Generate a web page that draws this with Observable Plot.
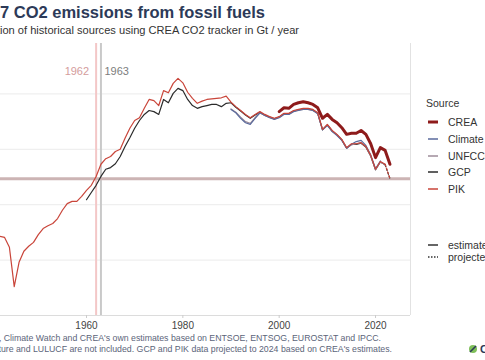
<!DOCTYPE html>
<html><head><meta charset="utf-8">
<script src="https://cdn.jsdelivr.net/npm/d3@7"></script>
<script src="https://cdn.jsdelivr.net/npm/@observablehq/plot@0.6"></script>
<style>
body{margin:0;background:#fff;}
#wrap{position:relative;width:485px;height:360px;overflow:hidden;font-family:"Liberation Sans",Arial,sans-serif;}
#wrap svg{position:absolute;left:0;top:0;}
</style></head><body><div id="wrap"></div>
<script>
// ---- data (Gt CO2 / year) ----
const pikYears = d3.range(1940, 2023);
const pikValues = [1.44,1.43,1.43,1.41,1.23,0.52,0.96,1.16,1.25,1.32,
  1.46,1.57,1.62,1.66,1.75,1.90,2.02,2.06,2.06,2.15,
  2.26,2.35,2.51,2.73,2.83,2.87,2.96,3.00,3.20,3.38,
  3.52,3.57,3.74,3.90,3.88,3.79,4.06,4.02,4.19,4.28,
  4.20,4.03,3.92,3.83,3.87,3.90,3.91,3.92,3.93,3.96,
  3.85,3.77,3.70,3.63,3.57,3.63,3.68,3.63,3.59,3.56,
  3.59,3.65,3.65,3.70,3.72,3.74,3.74,3.72,3.66,3.36,
  3.45,3.34,3.27,3.18,3.03,3.10,3.10,3.12,3.05,2.89,
  2.64,2.78,2.73];
const gcpYears = d3.range(1960, 2023);
const gcpValues = [2.09,2.22,2.35,2.51,2.64,2.67,2.74,2.87,3.05,3.21,
  3.38,3.52,3.63,3.70,3.68,3.63,3.90,3.84,4.01,4.10,
  4.06,3.90,3.79,3.74,3.77,3.79,3.81,3.81,3.77,3.83,
  3.84,3.76,3.69,3.62,3.56,3.62,3.67,3.62,3.58,3.55,
  3.58,3.64,3.64,3.69,3.71,3.73,3.73,3.71,3.65,3.35,
  3.44,3.33,3.26,3.17,3.02,3.09,3.09,3.11,3.04,2.88,
  2.63,2.77,2.72];
const unfcccYears = d3.range(1990, 2023);
const unfcccValues = [3.73,3.67,3.58,3.50,3.47,3.57,3.66,3.61,3.58,3.55,
  3.58,3.64,3.63,3.69,3.71,3.72,3.72,3.70,3.65,3.35,
  3.44,3.33,3.26,3.17,3.02,3.08,3.10,3.12,3.05,2.88,
  2.63,2.77,2.72];
const cwYears = d3.range(1990, 2022);
const cwValues = [3.72,3.66,3.56,3.48,3.45,3.56,3.66,3.61,3.57,3.54,
  3.57,3.63,3.63,3.68,3.70,3.72,3.72,3.70,3.64,3.35,
  3.43,3.32,3.25,3.16,3.02,3.09,3.14,3.16,3.07,2.90,
  2.65,2.79];
const creaYears = d3.range(2000, 2024);
const creaValues = [3.68,3.75,3.74,3.81,3.84,3.86,3.84,3.81,3.75,3.56,
  3.63,3.54,3.48,3.39,3.27,3.29,3.29,3.34,3.27,3.10,
  2.85,3.03,2.98,2.73];
const projYears = [2022, 2023];
const gcpProjValues = [2.72, 2.47];
const pikProjValues = [2.73, 2.47];
const markYears = [1962, 1963];      // PIK, GCP: last year emissions were this low
const xTicks = [1960, 1980, 2000, 2020];
const gridValues = [1, 2, 3, 4];

const sources = ["CREA", "Climate Watch", "UNFCCC", "GCP", "PIK"];
const colors = {"CREA":"#8e1b1b","Climate Watch":"#5a6a9c","UNFCCC":"#9e8d9a","GCP":"#2b2b2b","PIK":"#c9453a"};
const widths = {"CREA":3,"Climate Watch":1.2,"UNFCCC":1.2,"GCP":1.2,"PIK":1.2};

const rows = (years, values, source) => years.map((y, i) => ({year: y, value: values[i], source}));
const level = pikProjValues[pikProjValues.length - 1];

const lineOpts = (s) => ({x:"year", y:"value", stroke: colors[s], strokeWidth: widths[s], clip: true, strokeLinejoin:"round"});

const chart = Plot.plot({
  width: 485, height: 360,
  marginLeft: 0, marginRight: 75, marginTop: 43, marginBottom: 45,
  style: {fontFamily: "Liberation Sans, Arial, sans-serif", background: "transparent"},
  x: {domain: [1942.15, 2027.26], axis: null, label: null},
  y: {domain: [0, 4.91], axis: null, label: null},
  marks: [
    Plot.ruleY(gridValues, {stroke: "#ebebeb", strokeWidth: 1}),
    Plot.ruleY([0], {stroke: "#dcdcdc", strokeWidth: 1}),
    Plot.ruleX([2027.26], {stroke: "#e2e2e2", strokeWidth: 1}),
    Plot.ruleX([markYears[0]], {stroke: "#f3c7c7", strokeWidth: 2}),
    Plot.ruleX([markYears[1]], {stroke: "#c9c9c9", strokeWidth: 2}),
    Plot.ruleY([level], {stroke: "#ccb4b4", strokeWidth: 3}),
    Plot.text([markYears[0]], {x: d => d, frameAnchor: "top", dy: 24, dx: -7, textAnchor: "end", text: d => String(d), fill: "#d49c9c", fontSize: 11}),
    Plot.text([markYears[1]], {x: d => d, frameAnchor: "top", dy: 24, dx: 3.5, textAnchor: "start", text: d => String(d), fill: "#7d7d7d", fontSize: 11}),
    Plot.axisX({ticks: xTicks, tickFormat: d => String(d), tickSize: 3, tickPadding: 3, fontSize: 10, stroke: "#cccccc", color: "#444", label: null}),
    Plot.line(rows(gcpYears, gcpValues, "GCP"), lineOpts("GCP")),
    Plot.line(rows(unfcccYears, unfcccValues, "UNFCCC"), lineOpts("UNFCCC")),
    Plot.line(rows(cwYears, cwValues, "Climate Watch"), lineOpts("Climate Watch")),
    Plot.line(rows(pikYears, pikValues, "PIK"), lineOpts("PIK")),
    Plot.line(rows(projYears, gcpProjValues, "GCP"), {...lineOpts("GCP"), strokeDasharray: "2,2"}),
    Plot.line(rows(projYears, pikProjValues, "PIK"), {...lineOpts("PIK"), strokeDasharray: "2,2"}),
    Plot.line(rows(creaYears, creaValues, "CREA"), lineOpts("CREA"))
  ]
});
const wrap = document.getElementById("wrap");
wrap.appendChild(chart);

// ---- text and legend overlay ----
const svg = d3.select(wrap).append("svg").attr("width", 485).attr("height", 360)
  .style("font-family", "Liberation Sans, Arial, sans-serif");
svg.append("text").attr("x", 265).attr("y", 18).attr("text-anchor", "end")
  .attr("font-size", 16.5).attr("font-weight", "bold").attr("fill", "#2c3a58")
  .text("EU27 CO2 emissions from fossil fuels");
svg.append("text").attr("x", 299).attr("y", 34).attr("text-anchor", "end")
  .attr("font-size", 11.1).attr("fill", "#333")
  .text("Extrapolation of historical sources using CREA CO2 tracker in Gt / year");
svg.append("text").attr("x", 381).attr("y", 341).attr("text-anchor", "end")
  .attr("font-size", 8.75).attr("fill", "#5b6479")
  .text("Source: GCP, PIK, UNFCCC, Climate Watch and CREA's own estimates based on ENTSOE, ENTSOG, EUROSTAT and IPCC.");
svg.append("text").attr("x", 392).attr("y", 352).attr("text-anchor", "end")
  .attr("font-size", 8.75).attr("fill", "#5b6479")
  .text("Agriculture and LULUCF are not included. GCP and PIK data projected to 2024 based on CREA's estimates.");

const lg = svg.append("g").attr("font-size", 10.5).attr("fill", "#333");
lg.append("text").attr("x", 426).attr("y", 107).text("Source");
const itemY = [122, 139, 156, 172, 189];
sources.forEach((s, i) => {
  lg.append("line").attr("x1", 428).attr("x2", 438).attr("y1", itemY[i]).attr("y2", itemY[i])
    .attr("stroke", colors[s]).attr("stroke-width", widths[s] === 3 ? 3 : 1.5);
  lg.append("text").attr("x", 448).attr("y", itemY[i] + 3.8).text(s);
});
const typeLabels = ["estimated", "projected"];
const typeY = [245, 257];
typeLabels.forEach((t, i) => {
  lg.append("line").attr("x1", 428).attr("x2", 438).attr("y1", typeY[i]).attr("y2", typeY[i])
    .attr("stroke", "#333").attr("stroke-width", 1.5).attr("stroke-dasharray", i ? "1.5,1.5" : null);
  lg.append("text").attr("x", 448).attr("y", typeY[i] + 3.8).text(t);
});
// logo
const logo = svg.append("g");
logo.append("circle").attr("cx", 473).attr("cy", 349).attr("r", 4).attr("fill", "#7fbf5a");
logo.append("path").attr("d", "M470 352 L476 346").attr("stroke", "#2c3a58").attr("stroke-width", 1.6);
logo.append("text").attr("x", 480).attr("y", 353).attr("font-size", 11).attr("font-weight", "bold").attr("fill", "#2c3a58").text("C");
</script>
</body></html>
